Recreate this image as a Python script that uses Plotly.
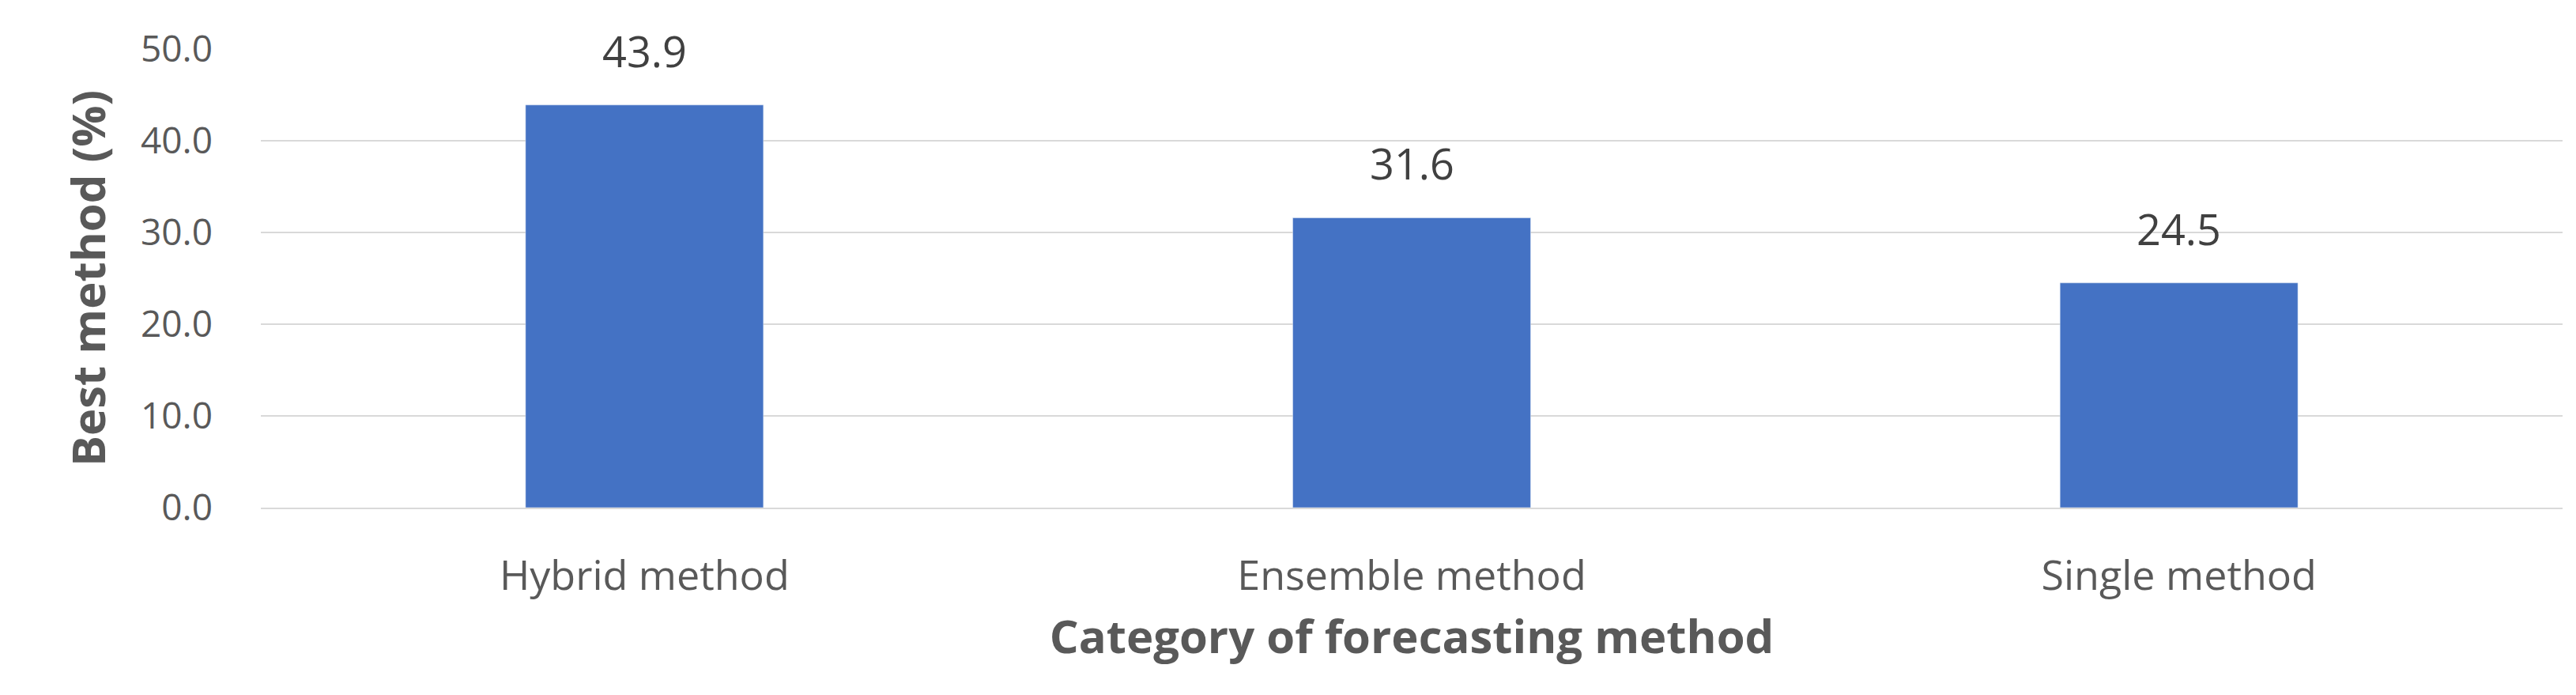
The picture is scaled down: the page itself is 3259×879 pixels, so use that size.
import plotly.graph_objects as go

categories = ["Hybrid method", "Ensemble method", "Single method"]
values = [43.9, 31.6, 24.5]

fig = go.Figure(go.Bar(x=categories, y=values, width=0.31, marker_color="#4472C4"))

for c, v in zip(categories, values):
    fig.add_annotation(x=c, y=v, text=f"{v:.1f}", showarrow=False, yanchor="bottom",
                       yshift=30, font=dict(size=54, color="#404040"))

fig.update_layout(
    width=3259, height=879, plot_bgcolor="white", paper_bgcolor="white",
    margin=dict(l=322, r=25, t=54, b=245),
    font=dict(family="Open Sans", color="#595959", size=44),
    showlegend=False,
    xaxis=dict(title=dict(text="<b>Category of forecasting method</b>", font=dict(size=58, color="#595959"), standoff=25),
               showline=True, linecolor="#D9D9D9", linewidth=2, ticks="", ticklabelstandoff=40,
               tickfont=dict(size=52, color="#595959")),
    yaxis=dict(title=dict(text="<b>Best method (%)</b>", font=dict(size=58, color="#595959"), standoff=25),
               range=[0, 50], dtick=10, tickformat=".1f", gridcolor="#D9D9D9", gridwidth=2,
               zeroline=False, ticklabelstandoff=60, tickfont=dict(size=46, color="#595959")),
)
fig.write_html("out.html")
